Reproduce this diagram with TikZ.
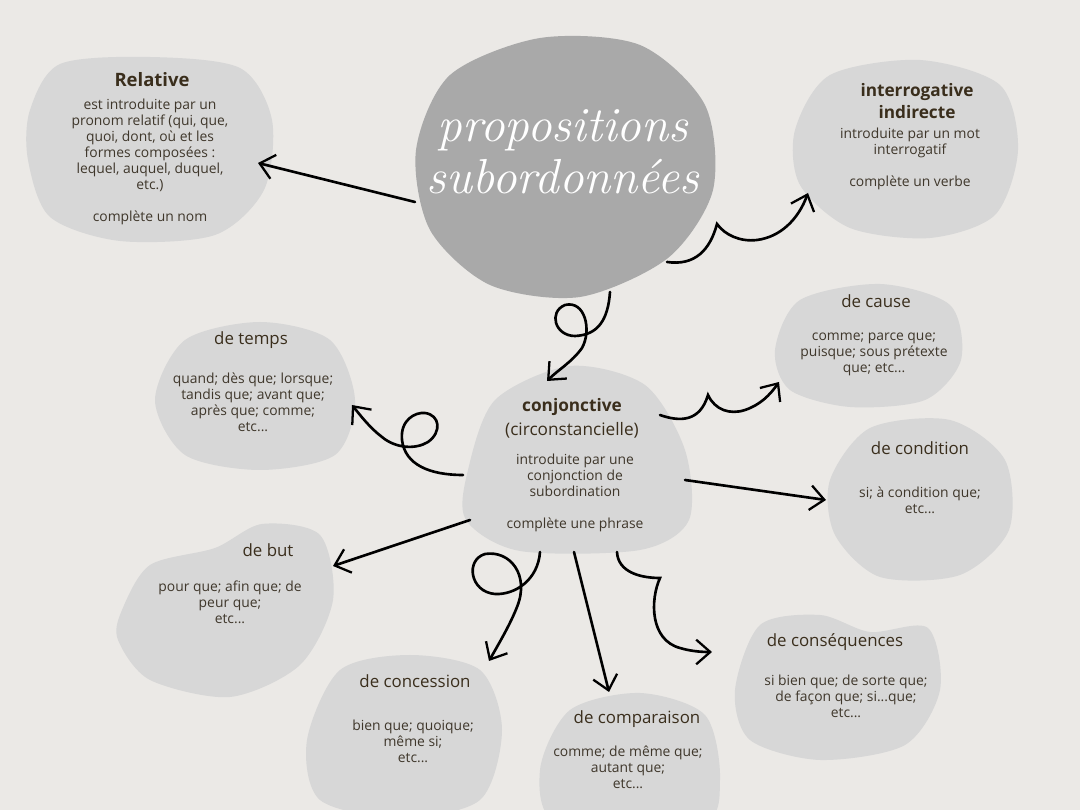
\documentclass[tikz,border=0pt]{standalone}
\usepackage{fontspec}
\setsansfont{Open Sans}
\renewcommand{\familydefault}{\sfdefault}
\usepackage{tikz}
\usepackage{xcolor}
\usetikzlibrary{arrows.meta}

\definecolor{paper}{HTML}{EBE9E6}
\definecolor{blobgrey}{HTML}{D7D7D7}
\definecolor{centergrey}{HTML}{A9A9A9}
\definecolor{titlebrown}{HTML}{3A2E1C}
\definecolor{bodybrown}{HTML}{3F372B}

\tikzset{
  blob/.style={fill=blobgrey, draw=none},
  headbold/.style={align=center, inner sep=0pt, text=titlebrown, font=\fontsize{10.5}{13}\selectfont\bfseries},
  head/.style={align=center, inner sep=0pt, text=titlebrown, font=\fontsize{9.6}{12}\selectfont},
  body/.style={align=center, inner sep=0pt, text=bodybrown, font=\fontsize{7.9}{9.1}\selectfont},
  sketch/.style={line width=1.5pt, line cap=round, ->},
}

\begin{document}
\begin{tikzpicture}[x=0.02cm, y=-0.02cm, >={Straight Barb[length=8pt,width=14pt,line width=1.3pt]}]
			% \draw [help lines] (0,0) grid (1080,810);
			\useasboundingbox (0,0) rectangle (1080,810);
			\clip (0,0) rectangle (1080,810);
			\fill[paper] (0,0) rectangle (1080,810);
			
			% blobs
			
			\fill[blob] plot[smooth cycle] coordinates {(30,110) (60,64) (150,57) (240,68) (272,120) (264,190) (215,235) (120,241) (50,217) (28,160)};
			\fill[centergrey] plot[smooth cycle] coordinates {(416,150) (450,75) (540,38) (640,45) (705,105) (713,190) (668,258) (580,297) (490,285) (430,230)};
			\fill[blob] plot[smooth cycle] coordinates {(795,130) (830,75) (920,60) (1000,85) (1018,150) (995,215) (930,238) (850,228) (800,185)};
			\fill[blob] plot[smooth cycle] coordinates {(155,400) (185,340) (260,322) (330,340) (355,400) (335,455) (260,470) (185,455)};
			\fill[blob] plot[smooth cycle] coordinates {(468,470) (495,400) (570,366) (645,385) (685,450) (689,520) (640,550) (520,551) (466,520)};
			\fill[blob] plot[smooth cycle] coordinates {(775,350) (800,300) (880,284) (950,305) (961,360) (925,400) (850,407) (790,390)};
			\fill[blob] plot[smooth cycle] coordinates {(830,480) (870,428) (950,420) (1005,460) (1009,530) (960,575) (880,577) (835,535)};
			\fill[blob] plot[smooth cycle] coordinates {(122,610) (150,565) (215,548) (262,524) (320,535) (333,600) (300,665) (230,697) (150,680) (118,640)};
			\fill[blob] plot[smooth cycle] coordinates {(307,740) (340,670) (410,655) (480,670) (502,730) (480,800) (400,818) (320,800)};
			\fill[blob] plot[smooth cycle] coordinates {(540,770) (570,710) (640,693) (705,715) (720,780) (700,825) (560,825)};
			\fill[blob] plot[smooth cycle] coordinates {(735,690) (760,625) (820,615) (870,632) (928,628) (940,690) (905,745) (820,760) (750,740)};
			
			% texts
			
			\node[white, font=\rmfamily\itshape\fontsize{28}{29.5}\selectfont, align=center] (center) at (563,152) {propositions\\subordonnées};
			
			\node[headbold] (relative) at (152,80) {Relative};
			\node[body, below=0pt] (relativeText) at (150,99) {est introduite par un\\pronom relatif (qui, que,\\quoi, dont, où et les\\formes composées :\\lequel, auquel, duquel,\\etc.)\\[9.1pt]complète un nom};
			
			\node[headbold, font=\fontsize{9.8}{13}\selectfont\bfseries] (interro) at (917,101) {interrogative\\indirecte};
			\node[body] (interroText) at (910,159) {introduite par un mot\\interrogatif\\[9.1pt]complète un verbe};
			
			\node[headbold, font=\fontsize{9.8}{13}\selectfont\bfseries] (conj) at (572,407) {conjonctive};
			\node[head, font=\fontsize{9.8}{12}\selectfont] (conjSub) at (572,430) {(circonstancielle)};
			\node[body] (conjText) at (575,493) {introduite par une\\conjonction de\\subordination\\[9.1pt]complète une phrase};
			
			\node[head] (temps) at (251,340) {de temps};
			\node[body] (tempsText) at (253,402) {quand; dès que; lorsque;\\tandis que; avant que;\\après que; comme;\\etc...};
			
			\node[head] (cause) at (876,301) {de cause};
			\node[body] (causeText) at (874,354) {comme; parce que;\\puisque; sous prétexte\\que; etc...};
			
			\node[head] (condition) at (920,448) {de condition};
			\node[body] (conditionText) at (920,500) {si; à condition que;\\etc...};
			
			\node[head] (but) at (268,550) {de but};
			\node[body] (butText) at (230,602) {pour que; afin que; de\\peur que;\\etc...};
			
			\node[head] (concession) at (415,681) {de concession};
			\node[body] (concessionText) at (413,741) {bien que; quoique;\\même si;\\etc...};
			
			\node[head] (comparaison) at (637,719) {de comparaison};
			\node[body] (comparaisonText) at (628,767) {comme; de même que;\\autant que;\\etc...};
			
			\node[head] (consequences) at (835,642) {de conséquences};
			\node[body] (consequencesText) at (846,696) {si bien que; de sorte que;\\de façon que; si...que;\\etc...};
			
			% connector ends
			
			\coordinate (centerW) at (415,202);
			\coordinate (relativeE) at (258,163);
			\coordinate (centerSE) at (667,262);
			\coordinate (interroSW) at (808,193);
			\coordinate (centerS) at (610,292);
			\coordinate (conjN) at (547,381);
			\coordinate (conjW) at (463,475);
			\coordinate (tempsE) at (352,405);
			\coordinate (conjNE) at (660,415);
			\coordinate (causeSW) at (779,382);
			\coordinate (conjE) at (685,480);
			\coordinate (conditionW) at (826,500);
			\coordinate (conjSW) at (470,520);
			\coordinate (butE) at (333,566);
			\coordinate (conjS1) at (540,552);
			\coordinate (concessionN) at (489,661);
			\coordinate (conjS2) at (574,552);
			\coordinate (comparaisonN) at (609,692);
			\coordinate (conjS3) at (617,552);
			\coordinate (consequencesW) at (712,652);
			
			% arrows
			
			\draw[sketch] (centerW) -- (relativeE);
			\draw[sketch] (centerSE) .. controls (695,266) and (710,250) .. (717,224) .. controls (725,235) and (740,242) .. (757,240) .. controls (780,237) and (798,220) .. (interroSW);
			\draw[sketch] (centerS) .. controls (608,320) and (598,335) .. (575,336) .. controls (555,336) and (548,312) .. (565,305) .. controls (585,300) and (592,330) .. (582,348) .. controls (572,362) and (558,370) .. (conjN);
			\draw[sketch] (conjW) .. controls (430,475) and (405,465) .. (402,440) .. controls (400,420) and (415,412) .. (425,413) .. controls (440,415) and (442,432) .. (428,442) .. controls (415,450) and (395,448) .. (382,437) .. controls (370,428) and (360,415) .. (tempsE);
			\draw[sketch] (conjNE) .. controls (680,422) and (700,422) .. (708,395) .. controls (715,410) and (730,415) .. (745,410) .. controls (760,405) and (770,395) .. (causeSW);
			\draw[sketch] (conjE) -- (conditionW);
			\draw[sketch] (conjSW) -- (butE);
			\draw[sketch] (conjS1) .. controls (538,580) and (515,595) .. (495,594) .. controls (470,592) and (465,560) .. (485,554) .. controls (510,550) and (530,575) .. (517,607) .. controls (510,625) and (498,645) .. (concessionN);
			\draw[sketch] (conjS2) -- (comparaisonN);
			\draw[sketch] (conjS3) .. controls (618,572) and (640,578) .. (660,578) .. controls (650,600) and (650,640) .. (680,648) .. controls (690,651) and (700,652) .. (consequencesW);
			
\end{tikzpicture}
\end{document}
